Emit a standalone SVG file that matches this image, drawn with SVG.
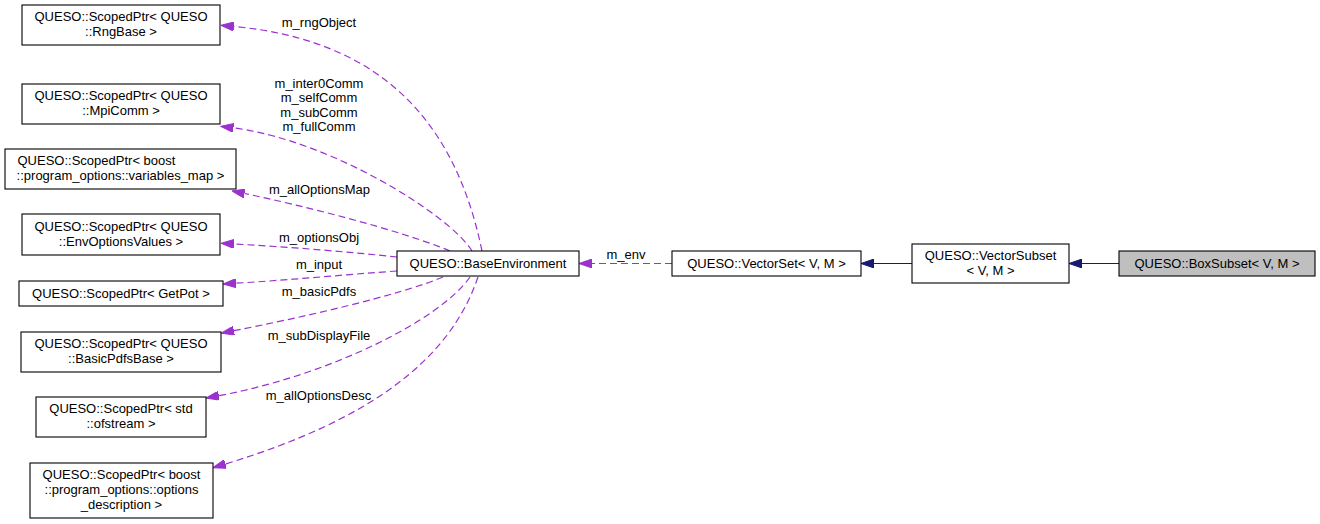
<svg xmlns="http://www.w3.org/2000/svg" width="1320" height="524" viewBox="0 0 1320 524">
<style>
text{font-family:"Liberation Sans",Arial,sans-serif;font-size:13px;fill:#000}
.n rect{fill:#fff;stroke:#000;stroke-width:1.1}
.n text{text-anchor:middle}
.lbl{text-anchor:middle}
.d{fill:none;stroke:#9a32cd;stroke-width:1.2;stroke-dasharray:7,4}
.s{fill:none;stroke:#191970;stroke-width:1.2}
</style>
<defs>
<marker id="ap" markerUnits="userSpaceOnUse" viewBox="0 0 13 9" refX="0" refY="4.5" markerWidth="13" markerHeight="9" orient="auto">
<path d="M0,0 L13,4.5 L0,9 z" fill="#9a32cd" stroke="#9a32cd" stroke-width="1"/>
</marker>
<marker id="an" markerUnits="userSpaceOnUse" viewBox="0 0 13 9" refX="0" refY="4.5" markerWidth="13" markerHeight="9" orient="auto">
<path d="M0,0 L13,4.5 L0,9 z" fill="#191970" stroke="#191970" stroke-width="1"/>
</marker>
</defs>
<g id="edges">
<path class="d" marker-end="url(#ap)" d="M482,251 C455,120 380,40 233.8,26.5"/>
<path class="d" marker-end="url(#ap)" d="M472,251 C450,215 330,140 233.4,127.9"/>
<path class="d" marker-end="url(#ap)" d="M450,251 C400,230 300,205 244.5,193.5"/>
<path class="d" marker-end="url(#ap)" d="M397,257 C350,252 290,247 234,244"/>
<path class="d" marker-end="url(#ap)" d="M397,271 C340,275 290,280 236,283.2"/>
<path class="d" marker-end="url(#ap)" d="M443,277 C400,295 300,318 233.8,330.7"/>
<path class="d" marker-end="url(#ap)" d="M470,277 C440,320 330,375 218.8,395.7"/>
<path class="d" marker-end="url(#ap)" d="M478,277 C450,360 370,420 225.4,464"/>
<path class="d" marker-end="url(#ap)" d="M672,263.5 L592,263.5"/>
<path class="s" marker-end="url(#an)" d="M912,263.5 L874,263.5"/>
<path class="s" marker-end="url(#an)" d="M1119,263.5 L1082,263.5"/>
<text class="lbl" x="319" y="26.5">m_rngObject</text>
<text class="lbl" x="319" y="87.5">m_inter0Comm</text>
<text class="lbl" x="319" y="102">m_selfComm</text>
<text class="lbl" x="319" y="116.5">m_subComm</text>
<text class="lbl" x="319" y="131">m_fullComm</text>
<text class="lbl" x="319.5" y="193.5">m_allOptionsMap</text>
<text class="lbl" x="319" y="242">m_optionsObj</text>
<text class="lbl" x="319" y="268.5">m_input</text>
<text class="lbl" x="319" y="296">m_basicPdfs</text>
<text class="lbl" x="319" y="340">m_subDisplayFile</text>
<text class="lbl" x="318.5" y="399.5">m_allOptionsDesc</text>
<text class="lbl" x="626" y="259">m_env</text>
</g>
<g id="rngbase" class="n">
<rect x="22" y="5" width="198" height="40"/>
<text x="121" y="21">QUESO::ScopedPtr&lt; QUESO</text>
<text x="121" y="36">::RngBase &gt;</text>
</g>
<g id="mpicomm" class="n">
<rect x="22" y="84" width="198" height="40"/>
<text x="121" y="100">QUESO::ScopedPtr&lt; QUESO</text>
<text x="121" y="115">::MpiComm &gt;</text>
</g>
<g id="variablesmap" class="n">
<rect x="5" y="149" width="231" height="40"/>
<text x="17.5" y="165" style="text-anchor:start">QUESO::ScopedPtr&lt; boost</text>
<text x="120.5" y="180">::program_options::variables_map &gt;</text>
</g>
<g id="envoptions" class="n">
<rect x="22" y="214" width="198" height="41"/>
<text x="121" y="231">QUESO::ScopedPtr&lt; QUESO</text>
<text x="121" y="246">::EnvOptionsValues &gt;</text>
</g>
<g id="getpot" class="n">
<rect x="19" y="281" width="204" height="25"/>
<text x="121" y="298">QUESO::ScopedPtr&lt; GetPot &gt;</text>
</g>
<g id="basicpdfs" class="n">
<rect x="21" y="332" width="200" height="40"/>
<text x="121" y="348">QUESO::ScopedPtr&lt; QUESO</text>
<text x="121" y="363">::BasicPdfsBase &gt;</text>
</g>
<g id="ofstream" class="n">
<rect x="36" y="397" width="170" height="40"/>
<text x="121" y="413">QUESO::ScopedPtr&lt; std</text>
<text x="121" y="428">::ofstream &gt;</text>
</g>
<g id="optionsdesc" class="n">
<rect x="30" y="463" width="183" height="55"/>
<text x="121.5" y="479">QUESO::ScopedPtr&lt; boost</text>
<text x="121.5" y="494">::program_options::options</text>
<text x="121.5" y="509">_description &gt;</text>
</g>
<g id="baseenv" class="n">
<rect x="397" y="251" width="182" height="25"/>
<text x="488" y="268">QUESO::BaseEnvironment</text>
</g>
<g id="vectorset" class="n">
<rect x="672" y="251" width="189" height="25"/>
<text x="766.5" y="268">QUESO::VectorSet&lt; V, M &gt;</text>
</g>
<g id="vectorsubset" class="n">
<rect x="912" y="244" width="157" height="39"/>
<text x="990.5" y="260">QUESO::VectorSubset</text>
<text x="990.5" y="275">&lt; V, M &gt;</text>
</g>
<g id="boxsubset" class="n">
<rect x="1119" y="251" width="196" height="25" style="fill:#bfbfbf"/>
<text x="1217" y="268">QUESO::BoxSubset&lt; V, M &gt;</text>
</g>
</svg>
